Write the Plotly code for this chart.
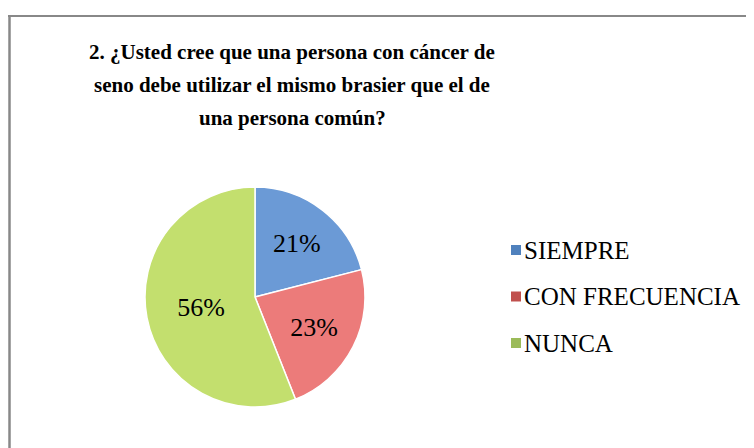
import plotly.graph_objects as go

# datos de la encuesta
labels = ["SIEMPRE", "CON FRECUENCIA", "NUNCA"]
values = [21, 23, 56]
colors = ["#6b9ad6", "#ec7b7a", "#c3df6e"]
legend_colors = ["#4f81bd", "#c0504d", "#9bbb59"]

title_lines = ["2. ¿Usted cree que una persona con cáncer de",
               "seno debe utilizar el mismo brasier que el de",
               "una persona común?"]

W, H = 754, 448
OFF = 8  # margen del body de la página


def px(x):
    return (x - OFF) / W


def py(y):
    return 1 - (y - OFF) / H


fig = go.Figure()
fig.add_trace(go.Pie(
    labels=labels,
    values=values,
    sort=False,
    direction="clockwise",
    rotation=0,
    marker=dict(colors=colors, line=dict(color="white", width=1.5)),
    texttemplate="%{value}%",
    textposition="inside",
    insidetextorientation="horizontal",
    textfont=dict(family="Liberation Serif", size=26, color="black"),
    domain=dict(x=[px(145), px(365)], y=[py(407), py(187)]),
    showlegend=False,
    hoverinfo="label+percent",
))

# leyenda a mano para igualar el espaciado
shapes = []
annotations = []
for i, lab in enumerate(labels):
    yc = 250 + i * 46.5
    shapes.append(dict(type="rect", xref="paper", yref="paper",
                       x0=px(511), x1=px(521), y0=py(yc + 5), y1=py(yc - 5),
                       fillcolor=legend_colors[i], line=dict(width=0)))
    annotations.append(dict(text=lab, xref="paper", yref="paper",
                            x=px(522), y=py(yc), xanchor="left", yanchor="middle",
                            showarrow=False,
                            font=dict(family="Liberation Serif", size=25, color="black")))

# marco
shapes.append(dict(type="line", xref="paper", yref="paper",
                   x0=px(8), x1=1, y0=py(16), y1=py(16),
                   line=dict(color="#888888", width=2)))
shapes.append(dict(type="line", xref="paper", yref="paper",
                   x0=px(9.5), x1=px(9.5), y0=0, y1=py(15),
                   line=dict(color="#888888", width=2.5)))

for i, line in enumerate(title_lines):
    annotations.append(dict(text="<b>" + line + "</b>", xref="paper", yref="paper",
                            x=px(292), y=py(52 + i * 33), xanchor="center", yanchor="middle",
                            showarrow=False,
                            font=dict(family="Liberation Serif", size=21, color="black")))

fig.update_layout(
    width=W, height=H,
    margin=dict(l=0, r=0, t=0, b=0),
    paper_bgcolor="white",
    plot_bgcolor="white",
    shapes=shapes,
    annotations=annotations,
)

fig.write_html("out.html")
